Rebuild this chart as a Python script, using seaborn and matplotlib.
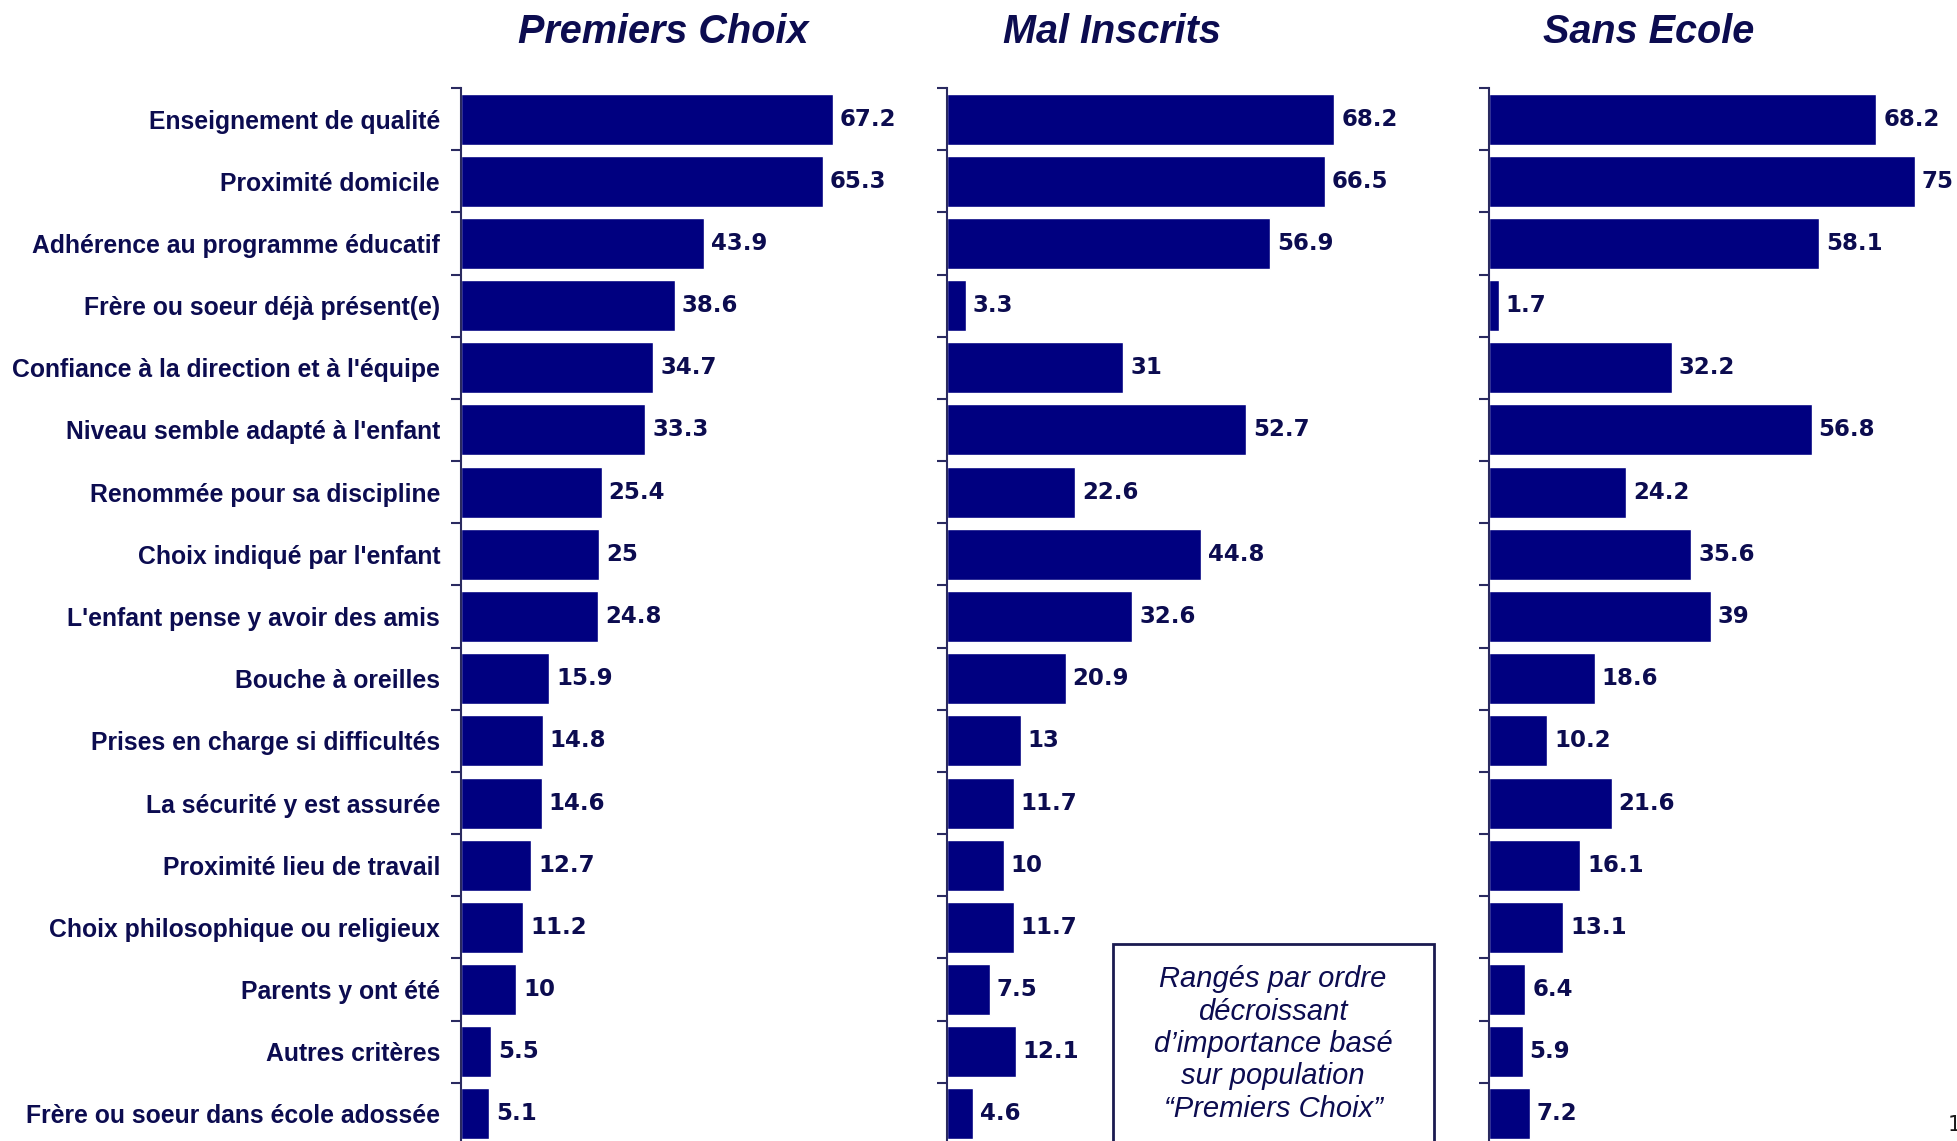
import matplotlib
matplotlib.use('Agg')
import matplotlib.pyplot as plt
from matplotlib.patches import Rectangle
import seaborn as sns
import pandas as pd

# data
criteres = [
    "Enseignement de qualité",
    "Proximité domicile",
    "Adhérence au programme éducatif",
    "Frère ou soeur déjà présent(e)",
    "Confiance à la direction et à l'équipe",
    "Niveau semble adapté à l'enfant",
    "Renommée pour sa discipline",
    "Choix indiqué par l'enfant",
    "L'enfant pense y avoir des amis",
    "Bouche à oreilles",
    "Prises en charge si difficultés",
    "La sécurité y est assurée",
    "Proximité lieu de travail",
    "Choix philosophique ou religieux",
    "Parents y ont été",
    "Autres critères",
    "Frère ou soeur dans école adossée",
]
premiers_choix = [67.2, 65.3, 43.9, 38.6, 34.7, 33.3, 25.4, 25, 24.8, 15.9,
                  14.8, 14.6, 12.7, 11.2, 10, 5.5, 5.1]
mal_inscrits = [68.2, 66.5, 56.9, 3.3, 31, 52.7, 22.6, 44.8, 32.6, 20.9,
                13, 11.7, 10, 11.7, 7.5, 12.1, 4.6]
sans_ecole = [68.2, 75, 58.1, 1.7, 32.2, 56.8, 24.2, 35.6, 39, 18.6,
              10.2, 21.6, 16.1, 13.1, 6.4, 5.9, 7.2]
titres = ["Premiers Choix", "Mal Inscrits", "Sans Ecole"]
note = "Rangés par ordre\ndécroissant\nd\u2019importance basé\nsur population\n\u201cPremiers Choix\u201d"

NAVY = '#000080'
TXT = '#0c0c50'
W, H = 1958, 1141

sns.set_style('white')
plt.rcParams['font.family'] = ['DejaVu Sans']

fig = plt.figure(figsize=(W / 100, H / 100), dpi=100)

# panel geometry (figure fractions)
panels = [
    (0.2354, 0.2263, premiers_choix, 663),
    (0.4837, 0.2320, mal_inscrits, 1112),
    (0.7605, 0.2320, sans_ecole, 1649),
]
y0, y1 = -0.0035, 0.9229

for i, (x0, w, vals, tx) in enumerate(panels):
    ax = fig.add_axes([x0, y0, w, y1 - y0])
    df = pd.DataFrame({'critere': criteres, 'pct': vals})
    sns.barplot(data=df, y='critere', x='pct', color=NAVY, saturation=1,
                width=0.82, orient='h', ax=ax)
    ax.set_xlim(0, 80)
    ax.set_ylim(len(criteres) - 0.5, -0.5)
    ax.set_xlabel('')
    ax.set_ylabel('')
    ax.set_xticks([])
    for s in ['top', 'right', 'bottom']:
        ax.spines[s].set_visible(False)
    ax.spines['left'].set_color('#2a2a60')
    ax.spines['left'].set_linewidth(1.5)
    # boundary ticks
    ax.set_yticks([k - 0.5 for k in range(len(criteres) + 1)], minor=True)
    ax.tick_params(axis='y', which='minor', left=True, length=7, width=1.5,
                   color='#2a2a60', direction='out')
    ax.tick_params(axis='y', which='major', left=True, length=0, pad=15)
    ax.set_yticks(range(len(criteres)))
    if i == 0:
        ax.set_yticklabels(criteres, fontsize=17.8, fontweight='bold',
                           color=TXT, family='Liberation Sans')
    else:
        ax.set_yticklabels([])
    ax.bar_label(ax.containers[0], labels=[f"{v:g}" for v in vals],
                 padding=5, fontsize=16.5, fontweight='bold', color=TXT)
    ax.set_facecolor('none')
    fig.text(tx / W, 1 - 32 / H, titres[i], ha='center', va='center',
             fontsize=28.5, fontweight='bold', fontstyle='italic', color=TXT,
             family='Liberation Sans')

# note box (runs past the bottom edge, as in the reference)
fig.patches.append(Rectangle((1113 / W, -0.02), 321 / W, 1 - 944 / H + 0.02,
                             transform=fig.transFigure, facecolor='white',
                             edgecolor='#1a1a50', linewidth=2, zorder=5))
fig.text(1273 / W, 1 - 1044 / H, note, ha='center', va='center',
         fontsize=21, fontstyle='italic', color=TXT, zorder=6,
         family='Liberation Sans', linespacing=1.2)

fig.text(0.998, 1 - 1125 / H, "1", ha='center', va='center', fontsize=15,
         color='#1a1a1a')

fig.savefig('out.png', dpi=100)
